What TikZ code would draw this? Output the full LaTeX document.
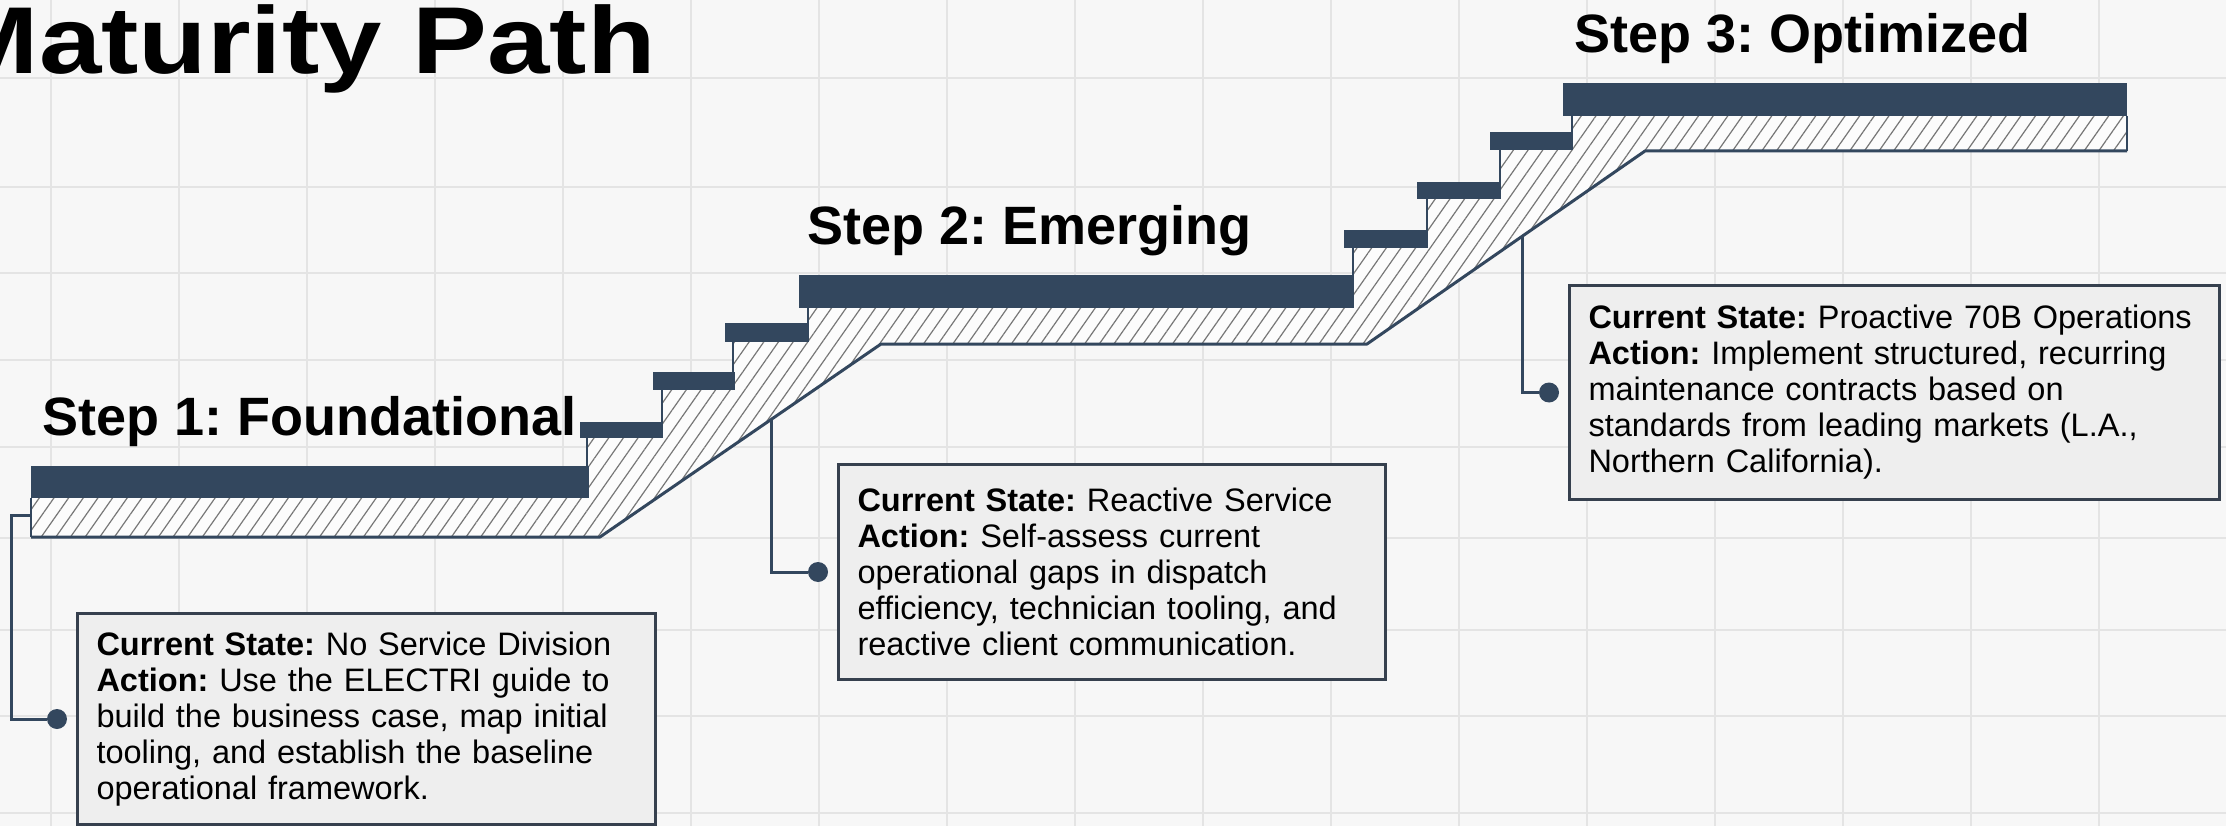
\documentclass[tikz,border=0pt]{standalone}
\usepackage{fontspec}
\setmainfont{Liberation Sans}
\usepackage{graphicx}
\usetikzlibrary{calc,positioning,patterns.meta}
\frenchspacing

\definecolor{slate}{HTML}{33475E}
\definecolor{paper}{HTML}{F7F7F7}
\definecolor{gridline}{HTML}{E4E4E4}
\definecolor{boxfill}{HTML}{EEEEEE}
\definecolor{boxline}{HTML}{36404E}
\definecolor{hatch}{HTML}{777777}

\begin{document}
\begin{tikzpicture}[
    x=1pt, y=-1pt,
    tread/.style={fill=slate},
    steplabel/.style={font=\fontsize{54}{60}\selectfont\bfseries, anchor=base west, inner sep=0pt},
    infobox/.style={draw=boxline, line width=3pt, fill=boxfill, anchor=north west,
        align=left, inner xsep=19pt, inner ysep=0pt, font=\fontsize{32.5}{36}\selectfont},
    link/.style={draw=slate, line width=3pt},
    pin/.style={circle, fill=slate, inner sep=0pt, minimum size=20pt}
]

% ---------------- Background ----------------
\fill[paper] (0,0) rectangle (2226,826);
\useasboundingbox (0,0) rectangle (2226,826);
\clip (0,0) rectangle (2226,826);
\foreach \gx in {51,179,...,2227}
    \draw[gridline, line width=2pt] (\gx,0) -- (\gx,826);
\foreach \gy in {78,187,273,360,447,538,630,716,813}
    \draw[gridline, line width=2pt] (0,\gy) -- (2226,\gy);

% ---------------- Title ----------------
\node[anchor=base east, inner sep=0pt, font=\fontsize{95}{100}\selectfont\bfseries]
    (title) at (656,74) {\scalebox{1.18}[1]{Maturity Path}};

% ---------------- Slab under the stairs ----------------
\coordinate (s1a) at (600,537);
\coordinate (s1b) at (881,344);
\coordinate (s2a) at (1367,344);
\coordinate (s2b) at (1645,151);

\fill[white!60!paper] (31,498) -- (587,498) -- (587,438) -- (662,438) -- (662,390)
    -- (733,390) -- (733,342) -- (808,342) -- (808,308) -- (1353,308) -- (1353,248)
    -- (1427,248) -- (1427,199) -- (1500,199) -- (1500,150) -- (1572,150) -- (1572,116)
    -- (2127,116) -- (2127,151) -- (s2b) -- (s2a) -- (s1b) -- (s1a) -- (31,537) -- cycle;
\path[pattern={Lines[angle=55,distance=12pt,line width=1.2pt]}, pattern color=hatch]
    (31,498) -- (587,498) -- (587,438) -- (662,438) -- (662,390)
    -- (733,390) -- (733,342) -- (808,342) -- (808,308) -- (1353,308) -- (1353,248)
    -- (1427,248) -- (1427,199) -- (1500,199) -- (1500,150) -- (1572,150) -- (1572,116)
    -- (2127,116) -- (2127,151) -- (s2b) -- (s2a) -- (s1b) -- (s1a) -- (31,537) -- cycle;
\draw[slate, line width=1.5pt] (31,537) -- (31,498) (587,498) -- (587,438)
    (662,438) -- (662,390) (733,390) -- (733,342) (808,342) -- (808,308)
    (1353,308) -- (1353,248) (1427,248) -- (1427,199) (1500,199) -- (1500,150)
    (1572,150) -- (1572,116) (2127,116) -- (2127,151);
\draw[slate, line width=3pt, line join=round] (2127,151) -- (s2b) -- (s2a) -- (s1b) -- (s1a) -- (31,537);

% ---------------- Treads ----------------
\foreach \xa/\ya/\xb/\yb in {31/466/589/498, 580/422/662/438, 653/372/735/390,
        725/323/808/342, 799/275/1353/308, 1344/230/1427/248, 1417/182/1500/199,
        1490/132/1572/150, 1563/83/2127/116}
    \fill[tread] (\xa,\ya) rectangle (\xb,\yb);

% ---------------- Step labels ----------------
\node[steplabel] (lbl1) at (42,435) {Step 1: Foundational};
\node[steplabel] (lbl2) at (807,245) {Step 2: Emerging};
\node[steplabel] (lbl3) at (1574,53) {Step 3: Optimized};

% ---------------- Info boxes ----------------
\node[infobox, text width=540pt, minimum height=211pt] (box1) at (76,612) {
    \textbf{Current State:} No Service Division\\
    \textbf{Action:} Use the ELECTRI guide to\\
    build the business case, map initial\\
    tooling, and establish the baseline\\
    operational framework.};
\node[infobox, text width=509pt, minimum height=215pt] (box2) at (837,463) {
    \textbf{Current State:} Reactive Service\\
    \textbf{Action:} Self-assess current\\
    operational gaps in dispatch\\
    efficiency, technician tooling, and\\
    reactive client communication.};
\node[infobox, text width=612pt, minimum height=214pt] (box3) at (1568,284) {
    \textbf{Current State:} Proactive 70B Operations\\
    \textbf{Action:} Implement structured, recurring\\
    maintenance contracts based on\\
    standards from leading markets (L.A.,\\
    Northern California).};

% ---------------- Connectors ----------------
\coordinate (c1) at (31,515);
\coordinate (c2) at ($(s1a)!0.612!(s1b)$);
\coordinate (c3) at ($(s2a)!0.561!(s2b)$);

\node[pin] (pin1) at ($(box1.west)+(-19,0)$) {};
\node[pin] (pin2) at ($(box2.west)+(-19,0)$) {};
\node[pin] (pin3) at ($(box3.west)+(-19,0)$) {};

\draw[link] (c1) -- ++(-20,0) |- (pin1);
\draw[link] (c2) |- (pin2);
\draw[link] (c3) |- (pin3);

\end{tikzpicture}
\end{document}
